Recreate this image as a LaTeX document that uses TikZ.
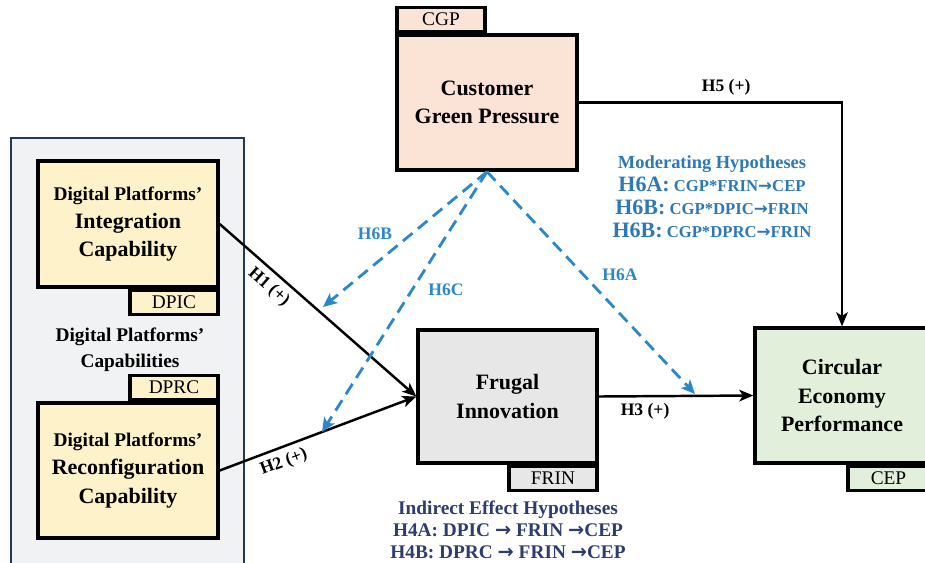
\documentclass[tikz,border=0pt]{standalone}
\usepackage{fontspec}
\setmainfont{Liberation Serif}
\newfontfamily\arrowfont{DejaVu Sans}
\usepackage{xcolor}
\usetikzlibrary{positioning,arrows.meta}
\definecolor{cgpfill}{HTML}{FBE3D6}
\definecolor{dpfill}{HTML}{FEF2CB}
\definecolor{frinfill}{HTML}{E7E7E7}
\definecolor{cepfill}{HTML}{E2EFDA}
\definecolor{panelfill}{HTML}{F1F2F3}
\definecolor{panelline}{HTML}{22395B}
\definecolor{modblue}{HTML}{2E78B4}
\definecolor{dashblue}{HTML}{2A88C8}
\definecolor{navy}{HTML}{2C3D6E}
\newcommand{\hypid}[1]{{\fontsize{12.5}{13}\selectfont #1}}
\newcommand{\toarr}{{\arrowfont\bfseries →}}

\begin{document}
\begin{tikzpicture}[x=0.02cm, y=-0.02cm,
  box/.style={draw, line width=1.9pt, align=center, inner sep=2pt,
              font=\fontsize{12.5}{16}\selectfont\bfseries},
  tag/.style={draw, line width=1.9pt, minimum width=1.76cm, minimum height=0.48cm,
              inner sep=0pt, font=\fontsize{11}{12}\selectfont},
  arr/.style={-{Stealth[length=2.8mm,width=2.3mm,inset=0.7mm]}, line width=1.4pt},
  modarr/.style={-{Stealth[length=2.8mm,width=2.5mm,inset=0.7mm]}, line width=1.6pt, dashblue,
                 dash pattern=on 7pt off 4pt},
  hyp/.style={font=\fontsize{10}{12}\selectfont\bfseries},
  modlbl/.style={font=\fontsize{10}{12}\selectfont\bfseries, text=dashblue},
]
  \clip (0,0) rectangle (925,562);

  % Capabilities panel on the left
  \draw[panelline, fill=panelfill, line width=0.9pt] (11,138) rectangle (244,590);

  % Digital platform capabilities
  \node[box, fill=dpfill, minimum width=3.6cm, minimum height=2.52cm] (dpic) at (128,224)
    {{\fontsize{11}{16}\selectfont Digital Platforms'}\\Integration\\Capability};
  \node[tag, fill=dpfill, anchor=north east] (dpictag) at (dpic.south east) {DPIC};
  \node[font=\fontsize{11}{15}\selectfont\bfseries, align=center] (dpcap) at (130,350)
    {Digital Platforms'\\Capabilities};
  \node[box, fill=dpfill, minimum width=3.6cm, minimum height=2.7cm] (dprc) at (128,470.5)
    {{\fontsize{11}{16}\selectfont Digital Platforms'}\\Reconfiguration\\Capability};
  \node[tag, fill=dpfill, anchor=south east] (dprctag) at (dprc.north east) {DPRC};

  % Moderator
  \node[box, fill=cgpfill, minimum width=3.6cm, minimum height=2.7cm] (cgp) at (487,102.5)
    {Customer\\Green Pressure};
  \node[tag, fill=cgpfill, anchor=south west] (cgptag) at (cgp.north west) {CGP};

  % Mediator and outcome
  \node[box, fill=frinfill, minimum width=3.58cm, minimum height=2.66cm] (frin) at (507.5,396.5)
    {Frugal\\Innovation};
  \node[tag, fill=frinfill, anchor=north east] (frintag) at (frin.south east) {FRIN};
  \node[box, fill=cepfill, minimum width=3.48cm, minimum height=2.7cm] (cep) at (842,395.5)
    {Circular\\Economy\\Performance};
  \node[tag, fill=cepfill, anchor=north east, minimum width=1.62cm] (ceptag) at (cep.south east) {CEP};

  % Direct paths
  \draw[arr] (dpic.east) -- node[hyp, sloped, below, pos=0.3] (h1lbl) {H1 (+)} (frin.west);
  \draw[arr] (dprc.east) -- node[hyp, sloped, below, pos=0.3] (h2lbl) {H2 (+)} (frin.west);
  \draw[arr] (frin.east) -- node[hyp, below, pos=0.3] (h3lbl) {H3 (+)} (cep.west);
  \draw[arr] (cgp.east) -| node[hyp, above, pos=0.28] (h5lbl) {H5 (+)} (cep.north);

  % Moderating paths
  \coordinate (h6bend) at (323,307);
  \coordinate (h6cend) at (322,432);
  \coordinate (h6aend) at (695,394);
  \draw[modarr] (cgp.south) -- (h6bend);
  \draw[modarr] (cgp.south) -- (h6cend);
  \draw[modarr] (cgp.south) -- (h6aend);
  \node[modlbl] (h6blbl) at (375,234) {H6B};
  \node[modlbl] (h6clbl) at (446,290) {H6C};
  \node[modlbl] (h6albl) at (620,275) {H6A};

  % Hypotheses lists
  \node[align=center, text=modblue, font=\fontsize{9.5}{13}\selectfont\bfseries] (modhyp) at (712,197)
    {{\fontsize{10.5}{13}\selectfont Moderating Hypotheses}\\
     \hypid{H6A:} CGP*FRIN\toarr CEP\\
     \hypid{H6B:} CGP*DPIC\toarr FRIN\\
     \hypid{H6B:} CGP*DPRC\toarr FRIN};
  \node[align=center, text=navy, font=\fontsize{11}{12.5}\selectfont\bfseries] (indhyp) at (508,530)
    {Indirect Effect Hypotheses\\
     H4A: DPIC \toarr{} FRIN \toarr CEP\\
     H4B: DPRC \toarr{} FRIN \toarr CEP};
\end{tikzpicture}
\end{document}
